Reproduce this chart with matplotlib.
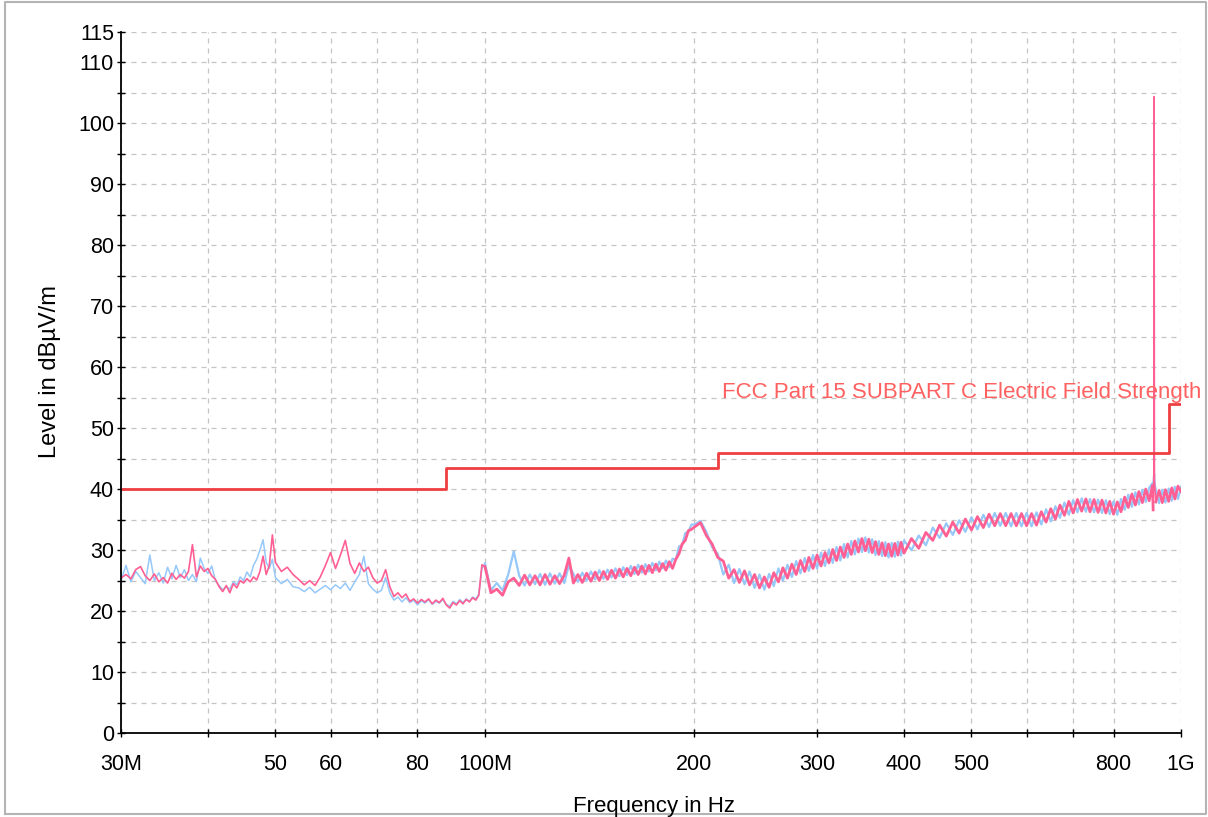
import matplotlib
matplotlib.use("Agg")
import matplotlib.pyplot as plt
from matplotlib.lines import Line2D

plt.rcParams['font.family'] = ['Liberation Sans', 'DejaVu Sans']

# frequencies in MHz (sweep points)
freq_a = [30.0, 30.5, 31.0, 31.5, 32.0, 32.5, 33.0, 33.5, 34.0, 34.5,
          35.0, 35.5, 36.0, 36.5, 37.0, 37.5, 38.0, 38.5, 39.0, 39.5,
          40.0, 40.5, 41.0, 41.5, 42.0, 42.5, 43.0, 43.5, 44.0, 44.5,
          45.0, 45.5, 46.0, 46.5, 47.0, 47.5, 48.0, 48.5, 49.0, 49.5]
freq_b = [50, 51, 52, 53, 54, 55, 56, 57, 58, 59,
          60, 61, 62, 63, 64, 65, 66, 67, 68, 69,
          70, 71, 72, 73, 74, 75, 76, 77, 78, 79,
          80, 81, 82, 83, 84, 85, 86, 87, 88, 89,
          90, 91, 92, 93, 94, 95, 96, 97, 98, 99]
freq_c = [100, 102, 104, 106, 108, 110, 112, 114, 116, 118,
          120, 122, 124, 126, 128, 130, 132, 134, 136, 138,
          140, 142, 144, 146, 148, 150, 152, 154, 156, 158,
          160, 162, 164, 166, 168, 170, 172, 174, 176, 178,
          180, 182, 184, 186, 188, 190, 192, 194, 196, 198]
freq_d = [200, 204, 208, 212, 216, 220, 224, 228, 232, 236,
          240, 244, 248, 252, 256, 260, 264, 268, 272, 276,
          280, 284, 288, 292, 296, 300, 304, 308, 312, 316,
          320, 324, 328, 332, 336, 340, 344, 348, 352, 356,
          360, 364, 368, 372, 376, 380, 384, 388, 392, 396]
freq_e = [400, 410, 420, 430, 440, 450, 460, 470, 480, 490,
          500, 510, 520, 530, 540, 550, 560, 570, 580, 590,
          600, 610, 620, 630, 640, 650, 660, 670, 680, 690,
          700, 710, 720, 730, 740, 750, 760, 770, 780, 790,
          800, 810, 820, 830, 840, 850, 860, 870, 880, 890,
          900, 910, 912, 914, 915, 916, 920, 930, 940, 950,
          960, 970, 980, 990, 1000]

# pink trace (dBuV/m)
pink_a = [25.4, 26.0, 25.3, 26.8, 27.3, 25.8, 25.0, 26.1, 24.8, 25.5,
          24.6, 26.2, 25.2, 26.0, 25.4, 26.5, 30.9, 25.6, 27.4, 26.5,
          27.0, 25.8, 25.2, 24.0, 23.2, 24.2, 23.0, 24.5, 23.8, 25.0,
          24.6, 25.3, 24.8, 25.6, 25.1, 26.5, 29.0, 26.0, 27.5, 32.5]
pink_b = [28.0, 26.5, 27.2, 26.0, 25.2, 24.3, 25.0, 24.2, 25.6, 27.5,
          29.6, 27.0, 29.2, 31.6, 27.8, 26.2, 27.9, 26.5, 27.2, 25.5,
          24.6, 25.0, 26.8, 24.0, 22.4, 23.0, 22.2, 22.8, 21.6, 22.0,
          21.3, 21.9, 21.5, 22.0, 21.2, 21.8, 21.4, 22.1, 21.0, 20.5,
          21.4, 21.0, 21.7, 21.2, 21.9, 21.5, 22.2, 21.8, 22.6, 27.6]
pink_c = [27.3, 23.0, 23.6, 22.6, 24.8, 25.4, 24.2, 25.9, 24.3, 25.8,
          24.3, 26.0, 24.4, 25.8, 24.5, 25.9, 28.7, 24.6, 26.0, 24.7,
          26.2, 24.9, 26.4, 25.0, 26.5, 25.2, 26.7, 25.4, 26.9, 25.6,
          27.0, 25.8, 27.2, 26.0, 27.4, 26.1, 27.5, 26.3, 27.7, 26.5,
          27.8, 26.7, 28.1, 27.0, 28.5, 29.4, 31.0, 31.6, 33.2, 33.4]
pink_d = [33.8, 34.5, 32.4, 31.0, 28.8, 28.2, 25.4, 26.8, 24.7, 26.6,
          24.3, 26.0, 23.8, 25.6, 23.9, 26.3, 24.8, 27.1, 25.4, 27.7,
          26.0, 28.3, 26.5, 28.8, 27.0, 29.2, 27.4, 29.6, 27.9, 30.1,
          28.3, 30.5, 28.8, 31.0, 29.3, 31.5, 29.7, 31.9, 29.9, 31.8,
          29.6, 31.4, 29.3, 31.2, 29.1, 31.0, 29.0, 31.1, 29.2, 31.3]
pink_e = [29.5, 31.9, 30.3, 32.9, 31.6, 34.1, 32.3, 34.6, 32.8, 35.1,
          33.3, 35.5, 33.7, 35.9, 34.0, 36.0, 34.0, 36.0, 34.0, 36.0,
          34.0, 36.0, 34.1, 36.3, 34.6, 36.8, 35.1, 37.4, 35.7, 38.0,
          36.1, 38.3, 36.4, 38.4, 36.3, 38.3, 36.2, 38.2, 36.1, 38.0,
          35.9, 37.9, 36.3, 38.7, 37.0, 39.2, 37.4, 39.6, 37.8, 40.0,
          38.1, 40.6, 36.6, 42.8, 104.4, 41.5, 37.9, 39.8, 37.8, 39.9,
          38.0, 40.2, 38.4, 40.5, 39.6]

# blue trace (dBuV/m)
blue_a = [25.0, 27.5, 24.8, 26.5, 25.5, 24.5, 29.2, 25.0, 26.3, 24.6,
          27.2, 25.3, 27.5, 25.5, 26.8, 25.0, 26.0, 24.8, 28.7, 27.0,
          26.2, 27.4, 25.0, 24.2, 23.5, 24.0, 23.6, 24.8, 24.3, 25.6,
          25.0, 26.4, 25.6, 27.5, 28.5, 30.0, 31.7, 28.0, 27.0, 28.5]
blue_b = [25.5, 24.5, 25.2, 24.0, 23.8, 23.2, 23.9, 23.0, 23.6, 24.2,
          23.5, 24.3, 23.7, 24.6, 23.4, 24.8, 26.0, 29.0, 24.5, 23.6,
          23.0, 23.4, 25.5, 23.0, 21.8, 22.3, 21.5, 22.2, 21.4, 21.8,
          21.0, 21.7, 21.3, 21.9, 21.1, 21.6, 21.3, 21.9, 21.1, 20.8,
          21.6, 21.2, 21.9, 21.4, 22.0, 21.6, 22.3, 22.0, 22.8, 27.0]
blue_c = [27.8, 23.4, 24.6, 23.4, 26.0, 29.8, 25.8, 24.2, 26.0, 24.4,
          26.1, 24.3, 26.2, 24.5, 26.2, 24.6, 27.5, 26.1, 24.8, 26.3,
          25.0, 26.5, 25.2, 26.7, 25.3, 26.8, 25.5, 27.0, 25.7, 27.2,
          25.9, 27.4, 26.1, 27.6, 26.3, 27.7, 26.5, 27.9, 26.7, 28.1,
          27.0, 28.3, 27.2, 28.6, 28.4, 30.6, 30.8, 32.8, 33.0, 34.2]
blue_d = [34.2, 34.8, 33.0, 30.5, 29.4, 26.0, 27.6, 24.6, 26.9, 24.4,
          26.5, 23.8, 26.0, 23.5, 26.1, 24.1, 27.0, 25.0, 27.6, 25.6,
          28.2, 26.2, 28.7, 26.6, 29.2, 27.0, 29.6, 27.4, 30.1, 27.9,
          30.5, 28.3, 31.0, 28.8, 31.5, 29.3, 31.9, 29.7, 32.1, 29.6,
          31.8, 29.2, 31.5, 29.0, 31.3, 28.8, 31.2, 28.9, 31.4, 29.1]
blue_e = [31.6, 30.0, 32.4, 30.8, 33.7, 32.0, 34.4, 32.5, 34.9, 33.0,
          35.4, 33.4, 35.8, 33.8, 36.1, 34.0, 36.1, 33.9, 36.1, 33.9,
          36.1, 33.9, 36.2, 34.2, 36.7, 34.7, 37.2, 35.3, 37.8, 35.8,
          38.2, 36.2, 38.5, 36.3, 38.4, 36.2, 38.3, 36.1, 38.2, 35.9,
          38.0, 35.8, 38.4, 36.6, 39.1, 37.1, 39.5, 37.5, 39.9, 37.9,
          40.2, 41.0, 39.5, 41.8, 42.5, 41.0, 39.8, 37.7, 39.9, 37.8,
          40.1, 38.1, 40.4, 38.4, 40.4]

# FCC limit line (step)
limit_f = [30, 88, 88, 216, 216, 960, 960, 1000]
limit_db = [40, 40, 43.5, 43.5, 46, 46, 54, 54]

xticks = [30, 40, 50, 60, 70, 80, 100, 200, 300, 400, 500, 600, 700, 800, 1000]
xlabels = ['30M', '', '50', '60', '', '80', '100M', '200', '300', '400', '500',
           '', '', '800', '1G']
yticks = [0, 10, 20, 30, 40, 50, 60, 70, 80, 90, 100, 110, 115]
yminor = [5, 15, 25, 35, 45, 55, 65, 75, 85, 95, 105]

# low part (30-100M) drawn thin, dense upper part drawn heavier,
# the narrow carrier spike thin again
lo_f = [f * 1e6 for f in freq_a + freq_b + freq_c[:1]]
hi_f = [f * 1e6 for f in freq_c + freq_d + freq_e]
pink_lo = pink_a + pink_b + pink_c[:1]
blue_lo = blue_a + blue_b + blue_c[:1]
pink_hi = pink_c + pink_d + pink_e
blue_hi = blue_c + blue_d + blue_e
s0, s1 = 152, 157  # 912 .. 920 MHz

fig = plt.figure(figsize=(12.08, 8.17), dpi=100)
ax = fig.add_axes([121 / 1208, 84 / 817, 1060 / 1208, 701 / 817])

ax.plot(lo_f, blue_lo, color='#96c8fa', lw=1.1, zorder=3)
ax.plot(hi_f, blue_hi, color='#96c8fa', lw=1.6, zorder=3)
ax.plot(lo_f, pink_lo, color='#ff5f93', lw=1.2, zorder=4)
ax.plot(hi_f[:s0 + 1], pink_hi[:s0 + 1], color='#ff5f93', lw=2.0, zorder=4)
ax.plot(hi_f[s0:s1], pink_hi[s0:s1], color='#ff5f93', lw=1.1, zorder=4)
ax.plot(hi_f[s1 - 1:], pink_hi[s1 - 1:], color='#ff5f93', lw=2.0, zorder=4)
ax.plot([f * 1e6 for f in limit_f], limit_db, color='#ee3e42', lw=2.0, zorder=5)
ax.text(219e6, 55, 'FCC Part 15 SUBPART C Electric Field Strength',
        color='#ff6060', fontsize=16, ha='left', va='baseline', zorder=6)

ax.set_xscale('log')
ax.set_xlim(30e6, 1e9)
ax.set_ylim(0, 115)
ax.set_xticks([t * 1e6 for t in xticks], xlabels)
ax.xaxis.set_minor_locator(plt.NullLocator())
ax.set_yticks(yticks, [str(t) for t in yticks])
ax.set_yticks(yminor, minor=True)

ax.tick_params(axis='both', which='both', direction='inout', length=6,
               width=1, colors='black', labelsize=15.5)
ax.tick_params(axis='y', pad=2)
ax.tick_params(axis='x', pad=12)
ax.grid(True, which='both', color='#c4c4c4', linestyle=(0, (4, 4)), lw=0.9)
for s in ['top', 'right']:
    ax.spines[s].set_visible(False)
for s in ['left', 'bottom']:
    ax.spines[s].set_linewidth(1.3)
    ax.spines[s].set_zorder(7)

fig.text(50 / 1208, 1 - 372 / 817, 'Level in dBµV/m', rotation=90,
         ha='center', va='center', fontsize=17)
fig.text(654 / 1208, 5 / 817, 'Frequency in Hz', ha='center', va='baseline',
         fontsize=16)

# outer frame
fig.add_artist(Line2D([5 / 1208, 5 / 1208, 1206 / 1208, 1206 / 1208, 5 / 1208],
                      [3 / 817, 815 / 817, 815 / 817, 3 / 817, 3 / 817],
                      transform=fig.transFigure, color='#b4b4b4', lw=1.5))

fig.savefig('out.png', dpi=100)
